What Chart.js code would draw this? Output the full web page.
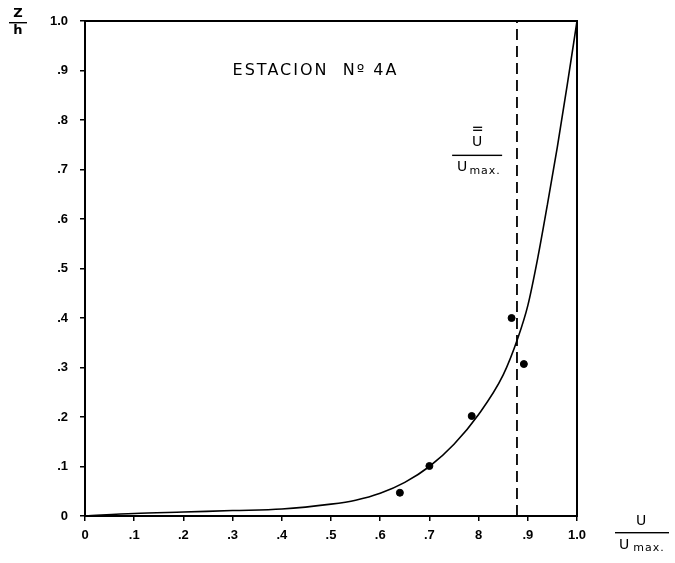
<!DOCTYPE html>
<html>
<head>
<meta charset="utf-8">
<script src="https://cdn.jsdelivr.net/npm/chart.js@4"></script>
<style>
  html, body { margin: 0; padding: 0; background: #fff; }
  #wrap { width: 675px; height: 563px; }
</style>
</head>
<body>
<div id="wrap"><canvas id="chart"></canvas></div>
<script>
// measured points (U/Umax, Z/h)
const pointsU = [0.64, 0.70, 0.786, 0.867, 0.892];
const pointsZ = [0.047, 0.101, 0.202, 0.40, 0.307];

// fitted curve
const curveU = [0, 0.1, 0.2, 0.3, 0.4, 0.5, 0.55, 0.6, 0.65, 0.7, 0.75, 0.8, 0.85, 0.88, 0.9, 0.92, 0.94, 0.96, 0.98, 1.0];
const curveZ = [0, 0.005, 0.008, 0.011, 0.014, 0.024, 0.032, 0.046, 0.068, 0.10, 0.145, 0.205, 0.285, 0.36, 0.425, 0.52, 0.63, 0.745, 0.87, 1.0];

// mean velocity ratio (dashed line)
const meanU = 0.878;

const xTickLabels = ['0', '.1', '.2', '.3', '.4', '.5', '.6', '.7', '8', '.9', '1.0'];
const yTickLabels = ['0', '.1', '.2', '.3', '.4', '.5', '.6', '.7', '.8', '.9', '1.0'];

const tickFont = { family: '"Liberation Sans", Arial, sans-serif', size: 13, weight: 'bold' };

// frame + hand lettered labels
const extras = {
  id: 'extras',
  afterDraw(chart) {
    const { ctx, chartArea: a, scales } = chart;
    ctx.save();
    ctx.strokeStyle = '#000';
    ctx.lineWidth = 2;
    ctx.strokeRect(a.left, a.top, a.right - a.left, a.bottom - a.top);

    ctx.fillStyle = '#000';
    ctx.textBaseline = 'middle';

    // station title
    ctx.font = '16px "DejaVu Sans", sans-serif';
    ctx.textAlign = 'left';
    ctx.letterSpacing = '2px';
    ctx.fillText('ESTACION  Nº 4A', scales.x.getPixelForValue(0.3), scales.y.getPixelForValue(0.9));
    ctx.letterSpacing = '0px';

    // mean-velocity fraction
    const fx = scales.x.getPixelForValue(0.797);
    const fy = scales.y.getPixelForValue(0.73);
    ctx.textAlign = 'center';
    ctx.font = '14px "DejaVu Sans", sans-serif';
    ctx.fillText('U', fx, fy - 12);
    ctx.fillRect(fx - 4, fy - 25, 9, 1.3);
    ctx.fillRect(fx - 4, fy - 28, 9, 1.3);
    ctx.fillRect(fx - 25, fy, 50, 1.4);
    ctx.fillText('U', fx - 15, fy + 13);
    ctx.font = '11px "DejaVu Sans", sans-serif';
    ctx.letterSpacing = '1px';
    ctx.fillText('max.', fx + 8, fy + 16);
    ctx.letterSpacing = '0px';

    // y-axis title Z/h
    ctx.font = 'bold 13px "DejaVu Sans", sans-serif';
    ctx.fillText('Z', 18, 14);
    ctx.fillRect(9, 22, 18, 1.4);
    ctx.fillText('h', 18, 31);

    // x-axis title U/Umax.
    const tx = 641;
    const ty = a.bottom + 16;
    ctx.font = '14px "DejaVu Sans", sans-serif';
    ctx.fillText('U', tx, ty - 11);
    ctx.fillRect(tx - 26, ty, 54, 1.4);
    ctx.fillText('U', tx - 17, ty + 13);
    ctx.font = '11px "DejaVu Sans", sans-serif';
    ctx.letterSpacing = '1px';
    ctx.fillText('max.', tx + 8, ty + 16);
    ctx.restore();
  }
};

new Chart(document.getElementById('chart'), {
  type: 'scatter',
  data: {
    datasets: [
      {
        label: 'curve',
        data: curveU.map((u, i) => ({ x: u, y: curveZ[i] })),
        showLine: true,
        borderColor: '#000',
        borderWidth: 1.6,
        pointRadius: 0,
        cubicInterpolationMode: 'monotone'
      },
      {
        label: 'mean',
        data: [{ x: meanU, y: 0 }, { x: meanU, y: 1 }],
        showLine: true,
        borderColor: '#000',
        borderWidth: 1.8,
        borderDash: [11, 6],
        pointRadius: 0
      },
      {
        label: 'points',
        data: pointsU.map((u, i) => ({ x: u, y: pointsZ[i] })),
        backgroundColor: '#000',
        borderColor: '#000',
        pointRadius: 3.5
      }
    ]
  },
  options: {
    responsive: true,
    maintainAspectRatio: false,
    animation: false,
    layout: { padding: { top: 21, right: 98, left: 0, bottom: 0 } },
    plugins: { legend: { display: false }, tooltip: { enabled: false } },
    scales: {
      x: {
        type: 'linear',
        min: 0,
        max: 1,
        afterBuildTicks: s => { s.ticks = xTickLabels.map((_, i) => ({ value: i / 10 })); },
        afterFit: s => { s.height = 47; },
        grid: { display: true, drawOnChartArea: false, drawTicks: true, tickLength: 5, color: '#000', lineWidth: 1.5 },
        border: { display: false },
        ticks: {
          color: '#000',
          font: tickFont,
          padding: 7,
          maxRotation: 0,
          callback: (v, i) => xTickLabels[i]
        }
      },
      y: {
        type: 'linear',
        min: 0,
        max: 1,
        afterBuildTicks: s => { s.ticks = yTickLabels.map((_, i) => ({ value: i / 10 })); },
        afterFit: s => { s.width = 85; },
        grid: { display: true, drawOnChartArea: false, drawTicks: true, tickLength: 5, color: '#000', lineWidth: 1.5 },
        border: { display: false },
        ticks: {
          color: '#000',
          font: tickFont,
          padding: 12,
          callback: (v, i) => yTickLabels[i]
        }
      }
    }
  },
  plugins: [extras]
});
</script>
</body>
</html>
